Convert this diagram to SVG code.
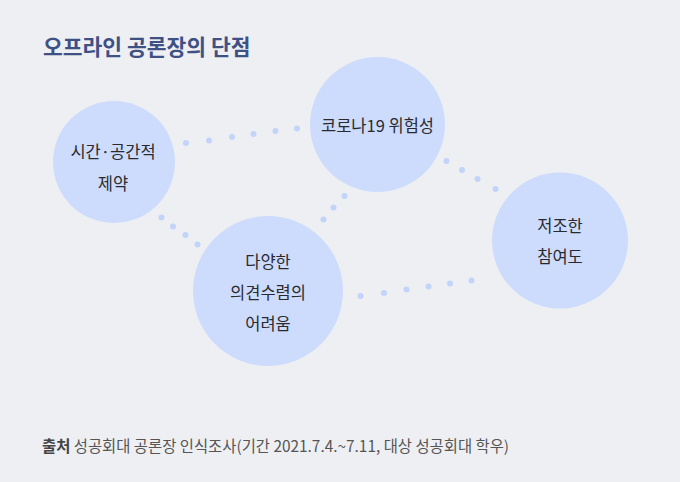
<svg xmlns="http://www.w3.org/2000/svg" width="680" height="482" viewBox="0 0 680 482">
<style>
.bg{fill:#eeeff3}
.node{fill:#cddcfd}
.dot{fill:#c3d4fb}
.lbl{font-family:"Noto Sans CJK KR","Noto Sans",sans-serif;font-size:16.5px;fill:#2a2a2e;text-anchor:middle}
.title{font-family:"Noto Sans CJK KR","Noto Sans",sans-serif;font-size:21.5px;font-weight:bold;fill:#3e5185}
.src{font-family:"Noto Sans CJK KR","Noto Sans",sans-serif;font-size:15.4px;fill:#555}
.srcb{font-weight:bold;fill:#444}
</style>
<rect class="bg" x="0" y="0" width="680" height="482"/>
<text class="title" x="43" y="55">오프라인 공론장의 단점</text>
<g id="connectors">
<circle class="dot" cx="186" cy="143" r="3"/>
<circle class="dot" cx="209" cy="140.5" r="3"/>
<circle class="dot" cx="232" cy="137" r="3"/>
<circle class="dot" cx="253.5" cy="134" r="3"/>
<circle class="dot" cx="275.5" cy="131" r="3"/>
<circle class="dot" cx="297" cy="128.5" r="3"/>
<circle class="dot" cx="161.5" cy="217.5" r="3"/>
<circle class="dot" cx="173" cy="226.5" r="3"/>
<circle class="dot" cx="185.5" cy="235" r="3"/>
<circle class="dot" cx="197.5" cy="244.5" r="3"/>
<circle class="dot" cx="323.5" cy="219.5" r="3"/>
<circle class="dot" cx="333.5" cy="207.5" r="3"/>
<circle class="dot" cx="344.5" cy="196" r="3"/>
<circle class="dot" cx="446.5" cy="161" r="3"/>
<circle class="dot" cx="462" cy="170" r="3"/>
<circle class="dot" cx="477.5" cy="179" r="3"/>
<circle class="dot" cx="495.5" cy="189" r="3"/>
<circle class="dot" cx="360.5" cy="296" r="3"/>
<circle class="dot" cx="384" cy="293" r="3"/>
<circle class="dot" cx="406.5" cy="289.5" r="3"/>
<circle class="dot" cx="428.5" cy="286.5" r="3"/>
<circle class="dot" cx="450" cy="283.5" r="3"/>
<circle class="dot" cx="471.5" cy="280.5" r="3"/>
</g>
<g id="node-time">
<circle class="node" cx="114" cy="162" r="61"/>
<text class="lbl" x="113" y="158">시간·공간적</text>
<text class="lbl" x="113" y="190">제약</text>
</g>
<g id="node-covid">
<circle class="node" cx="377.5" cy="124.5" r="67.5"/>
<text class="lbl" x="377.5" y="132">코로나19 위험성</text>
</g>
<g id="node-diverse">
<circle class="node" cx="268" cy="291" r="75"/>
<text class="lbl" x="268" y="268">다양한</text>
<text class="lbl" x="268" y="299">의견수렴의</text>
<text class="lbl" x="268" y="330">어려움</text>
</g>
<g id="node-low">
<circle class="node" cx="560" cy="240.5" r="68"/>
<text class="lbl" x="560" y="232">저조한</text>
<text class="lbl" x="560" y="263">참여도</text>
</g>
<text class="src" x="42" y="452"><tspan class="srcb">출처</tspan> 성공회대 공론장 인식조사(기간 2021.7.4.~7.11, 대상 성공회대 학우)</text>
</svg>
